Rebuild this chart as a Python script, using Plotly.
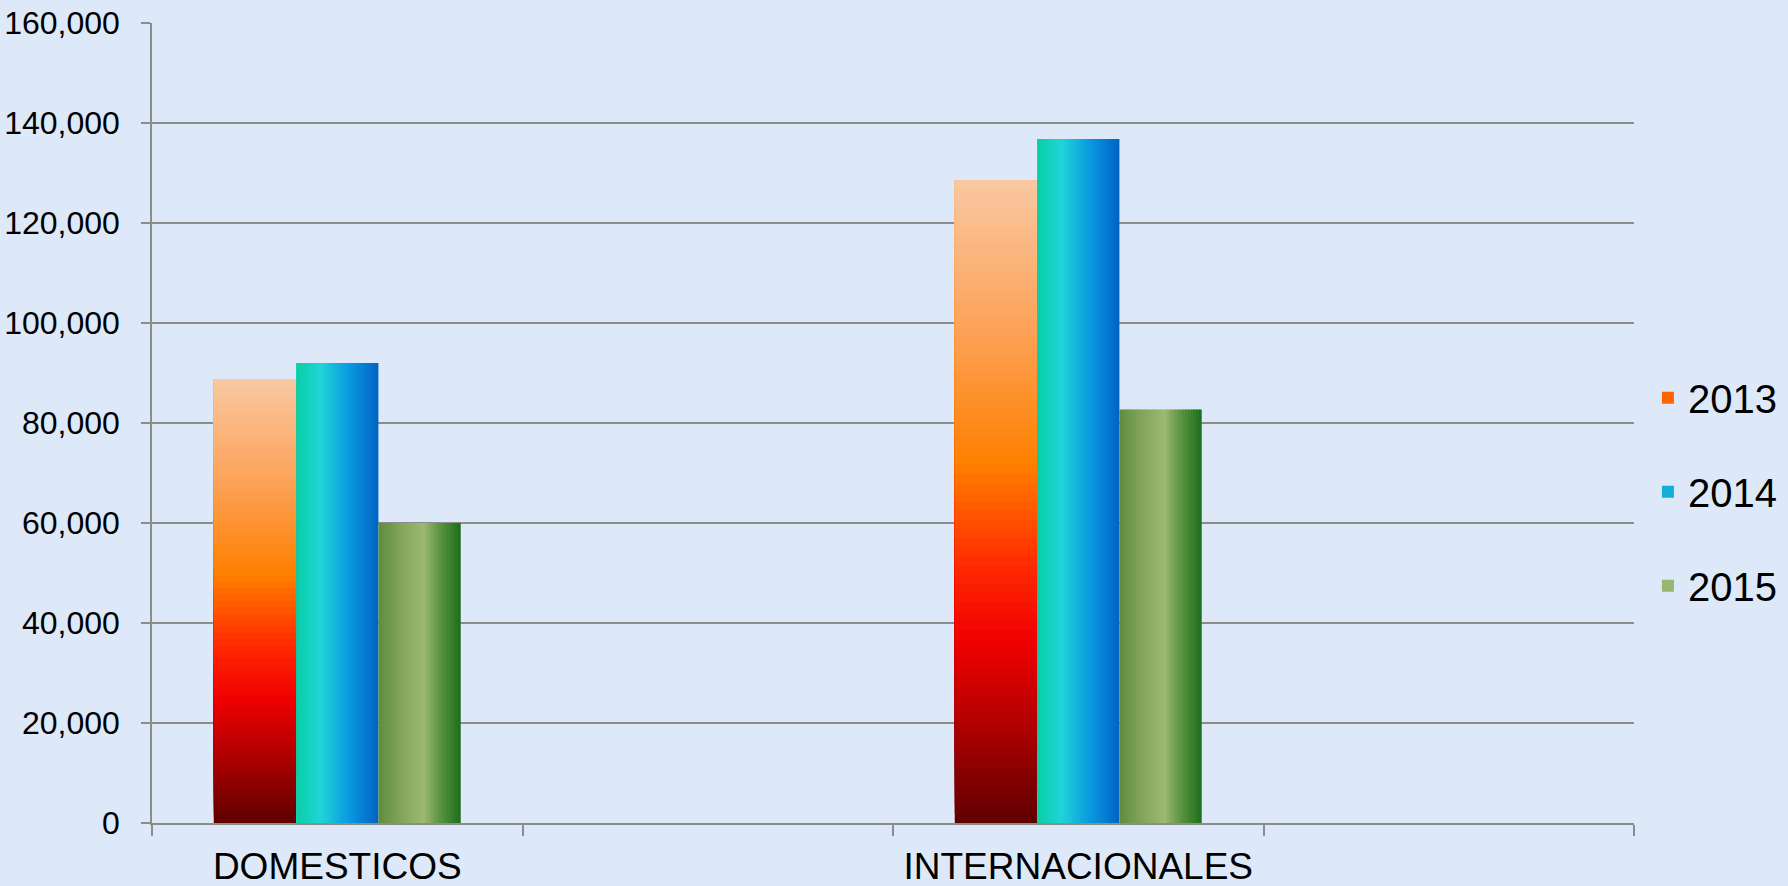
import plotly.graph_objects as go

# ---- data ----
axis_categories = ["DOMESTICOS", " ", "INTERNACIONALES", "  "]
categories = ["DOMESTICOS", "INTERNACIONALES"]
series_names = ["2013", "2014", "2015"]
v2013 = [88800, 128600]
v2014 = [92000, 136800]
v2015 = [60000, 82700]
y_ticks = [0, 20000, 40000, 60000, 80000, 100000, 120000, 140000, 160000]

# ---- style ----
FONT = "Liberation Sans, Arial, sans-serif"
BG = "#dde9f8"
GRID = "#8c8c8c"
BAR_W = 0.2222
OFFSETS = [-0.3333, -0.1111, 0.1111]


def lerp_color(stops, t):
    t = min(max(t, 0.0), 1.0)
    for i in range(len(stops) - 1):
        t0, c0 = stops[i]
        t1, c1 = stops[i + 1]
        if t <= t1:
            f = 0 if t1 == t0 else (t - t0) / (t1 - t0)
            a = [int(c0[k:k + 2], 16) for k in (1, 3, 5)]
            b = [int(c1[k:k + 2], 16) for k in (1, 3, 5)]
            return "#%02x%02x%02x" % tuple(round(a[j] + (b[j] - a[j]) * f) for j in range(3))
    return stops[-1][1]


# 2013: gradient from bottom (dark red) to top (peach)
stops13 = [(0.0, "#5e0000"), (0.12, "#a00000"), (0.28, "#f00000"), (0.40, "#ff2a00"),
           (0.56, "#ff8000"), (0.78, "#fca45c"), (1.0, "#f9c8a2")]
# 2014: gradient left -> right
stops14 = [(0.0, "#08cfa6"), (0.30, "#20d4d8"), (0.65, "#0a98e0"), (1.0, "#0064c4")]
# 2015: gradient left -> right
stops15 = [(0.0, "#5e8c3c"), (0.30, "#86a85e"), (0.55, "#9cb872"), (0.75, "#5a943e"), (1.0, "#1c6e1c")]

fig = go.Figure()

# 2013: vertical layers
NV = 70
for k in range(NV):
    f = k / NV
    fig.add_trace(go.Bar(
        x=categories,
        y=[v * (1 - f) for v in v2013],
        base=[v * f for v in v2013],
        offset=OFFSETS[0], width=BAR_W,
        marker=dict(color=lerp_color(stops13, (k + 0.5) / NV), line=dict(width=0)),
        name=series_names[0], legendgroup=series_names[0],
        showlegend=(k == int(NV * 0.5)), hoverinfo="skip" if k else None,
    ))

# 2014 and 2015: horizontal strips
NH = 30
for si, (vals, stops) in enumerate([(v2014, stops14), (v2015, stops15)], start=1):
    sw = BAR_W / NH
    for j in range(NH):
        fig.add_trace(go.Bar(
            x=categories,
            y=vals,
            offset=OFFSETS[si] + j * sw,
            width=sw * (1.4 if j < NH - 1 else 1.0),
            marker=dict(color=lerp_color(stops, (j + 0.5) / NH), line=dict(width=0)),
            name=series_names[si], legendgroup=series_names[si],
            showlegend=(j == NH // 2), hoverinfo="skip" if j else None,
        ))

fig.update_layout(
    width=1788, height=886,
    barmode="overlay",
    paper_bgcolor=BG, plot_bgcolor=BG,
    margin=dict(l=152, r=154, t=23, b=63, autoexpand=False),
    font=dict(family=FONT, color="#000000"),
    legend=dict(
        x=1.0094, xanchor="left", y=0.414, yanchor="middle",
        font=dict(size=40, family=FONT, color="#000000"),
        traceorder="grouped", tracegroupgap=39,
        bgcolor="rgba(0,0,0,0)",
    ),
    xaxis=dict(
        type="category", categoryorder="array", categoryarray=axis_categories,
        tickvals=axis_categories,
        range=[-0.5, 3.5], automargin=False,
        showgrid=False, showline=True, linecolor=GRID, linewidth=1.5,
        ticks="outside", tickson="boundaries", ticklen=11, tickcolor=GRID, tickwidth=1.5,
        tickfont=dict(size=37, family=FONT, color="#000000"),
        ticklabelstandoff=10,
    ),
    yaxis=dict(
        range=[0, 160000], tickvals=y_ticks, tickformat=",",
        automargin=False,
        showgrid=True, gridcolor=GRID, gridwidth=1.5,
        showline=True, linecolor=GRID, linewidth=1.5,
        ticks="outside", ticklen=9, tickcolor=GRID, tickwidth=1.5,
        tickfont=dict(size=32, family=FONT, color="#000000"),
        ticklabelstandoff=15,
        zeroline=False,
    ),
)

fig.write_html(
    "out.html",
    config={"displayModeBar": False},
    post_script="document.body.style.margin='0';document.body.style.overflow='hidden';",
)
